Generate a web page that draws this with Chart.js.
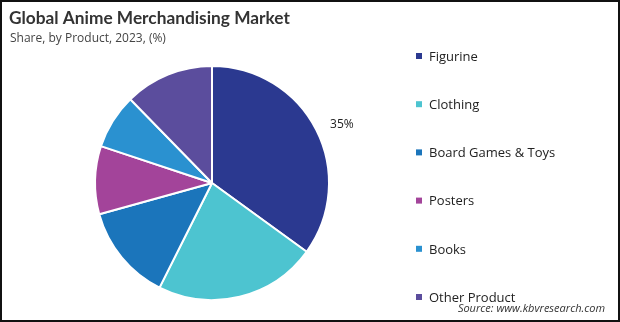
<!DOCTYPE html>
<html>
<head>
<meta charset="utf-8">
<script src="https://cdn.jsdelivr.net/npm/chart.js@4"></script>
<style>
html,body{margin:0;padding:0;background:#fff;}
#wrap{position:relative;width:620px;height:322px;box-sizing:border-box;border:2px solid #111;}
canvas{position:absolute;left:-2px;top:-2px;}
</style>
</head>
<body>
<div id="wrap"><canvas id="c" width="620" height="322"></canvas></div>
<script>
const title = "Global Anime Merchandising Market";
const subtitle = "Share, by Product, 2023, (%)";
const source = "Source: www.kbvresearch.com";
const categories = ["Figurine", "Clothing", "Board Games & Toys", "Posters", "Books", "Other Product"];
const shares = [35, 22.4, 13.3, 9.4, 7.6, 12.3];
const colors = ["#2B3990", "#4DC4D0", "#1B75BB", "#A3449A", "#2A91D0", "#5B4D9D"];
const shownLabels = ["35%", "", "", "", "", ""];

const FONT = "'Open Sans', 'Noto Sans', sans-serif";

const decorPlugin = {
  id: 'decor',
  afterDraw(chart) {
    const ctx = chart.ctx;
    ctx.save();
    // title
    ctx.fillStyle = '#333333';
    ctx.textBaseline = 'alphabetic';
    ctx.textAlign = 'left';
    ctx.font = "bold 17.3px Lato, " + FONT;
    ctx.fillText(title, 9, 24);
    ctx.font = "12px " + FONT;
    ctx.fillStyle = '#444444';
    ctx.fillText(subtitle, 10, 42);
    // legend
    categories.forEach((c, i) => {
      const y = 56 + i * 48.2;
      ctx.fillStyle = colors[i];
      ctx.fillRect(416, y - 3, 6, 6);
      ctx.fillStyle = '#222222';
      ctx.font = "13px " + FONT;
      ctx.textBaseline = 'middle';
      ctx.textAlign = 'left';
      ctx.fillText(c, 429, y + 1);
    });
    // source
    ctx.font = "italic 11px " + FONT;
    ctx.textAlign = 'right';
    ctx.textBaseline = 'alphabetic';
    ctx.fillStyle = '#333333';
    ctx.fillText(source, 605, 312);
    // data labels
    const meta = chart.getDatasetMeta(0);
    meta.data.forEach((arc, i) => {
      if (!shownLabels[i]) return;
      const p = arc.getProps(['x','y','startAngle','endAngle','outerRadius'], true);
      const mid = (p.startAngle + p.endAngle) / 2 + 0.04;
      const r = p.outerRadius + 26;
      ctx.font = "12px " + FONT;
      ctx.fillStyle = '#222222';
      ctx.textAlign = 'center';
      ctx.textBaseline = 'middle';
      ctx.fillText(shownLabels[i], p.x + Math.cos(mid) * r, p.y + Math.sin(mid) * r + 1);
    });
    ctx.restore();
  }
};

new Chart(document.getElementById('c'), {
  type: 'pie',
  data: {
    labels: categories,
    datasets: [{
      data: shares,
      backgroundColor: colors,
      borderColor: '#ffffff',
      borderWidth: 2
    }]
  },
  options: {
    responsive: false,
    animation: false,
    layout: { padding: { top: 65, bottom: 21, left: 94, right: 290 } },
    plugins: {
      legend: { display: false },
      tooltip: { enabled: false },
      title: { display: false }
    }
  },
  plugins: [decorPlugin]
});
</script>
</body>
</html>
